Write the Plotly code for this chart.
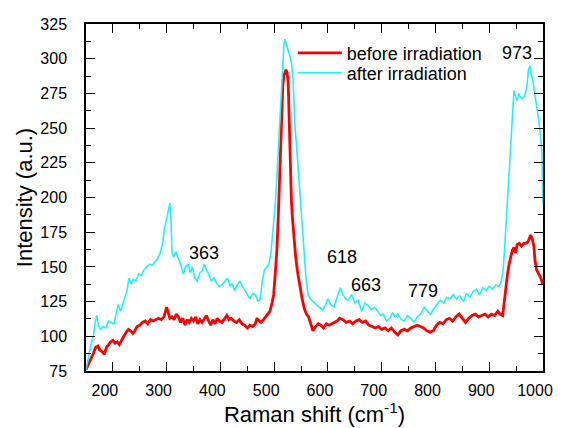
import plotly.graph_objects as go

# Raman shift (cm-1) and intensity (a.u.) — "after irradiation" (cyan)
after_x = [150,155,160,164,167,170,173,177,182,187,192,197,202,206,210,214,218,222,226,230,
           234,238,243,248,253,258,263,268,273,278,283,288,292,296,300,303,306,308,310,313,
           317,322,326,331,335,340,344,348,352,357,362,366,370,374,378,383,388,393,398,403,
           408,413,418,422,426,431,436,441,446,450,455,460,465,470,474,478,482,487,490,494,
           498,502,505,508,511,514,516,518,520,523,526,529,532,535,537,539,542,545,547,550,
           553,556,559,563,567,572,578,584,590,595,600,605,611,617,623,628,633,638,644,650,
           656,663,669,675,681,687,693,698,703,709,715,720,725,730,736,742,748,754,760,766,
           772,779,785,791,797,803,809,815,821,827,833,839,845,852,858,864,870,876,882,888,
           894,900,906,912,918,922,926,929,932,935,938,941,944,946,949,952,955,958,962,966,
           970,973,976,978,980,983,986,989,992,995,998,1000]
after_y = [76,86,95,100,110,115,108,105,107,106,111,110,109,116,123,118,122,128,132,142,
           138,141,140,145,144,148,150,152,151,154,156,160,166,178,184,190,196,184,160,157,
           161,156,152,145,150,152,146,150,142,140,146,147,152,148,145,140,142,138,136,137,
           140,142,136,138,133,137,140,136,133,130,127,131,130,125,127,140,148,150,152,160,
           176,195,214,235,256,280,297,310,314,310,305,302,298,285,265,250,235,220,209,195,
           178,160,143,130,127,125,123,121,119,122,127,123,121,128,135,130,127,126,130,124,
           126,118,124,122,119,121,118,115,116,111,113,117,114,116,112,111,115,113,110,114,
           116,121,118,116,120,123,126,124,128,127,130,127,129,125,131,128,132,134,130,135,
           133,136,134,137,136,139,148,166,185,205,225,250,268,277,273,270,275,272,271,273,
           280,292,295,288,287,280,273,264,256,245,233,195]

# "before irradiation" (red)
before_x = [150,155,160,164,168,172,176,180,184,188,192,196,200,204,208,212,216,220,225,229,
            233,237,241,245,250,255,260,265,270,275,280,285,290,295,300,303,306,310,314,318,
            322,326,330,334,338,342,346,350,354,358,362,366,370,374,378,382,386,390,394,398,
            403,407,412,416,420,425,430,435,440,445,450,455,460,465,468,472,476,480,484,488,
            492,496,499,502,505,508,510,512,514,516,518,520,522,524,526,527,528,529,530,532,
            534,537,540,544,548,552,556,560,564,568,572,577,582,587,592,597,602,607,612,617,
            622,628,634,640,646,652,658,664,670,676,682,688,694,700,706,712,718,724,730,736,
            742,748,754,760,766,772,778,784,790,796,802,808,814,820,826,832,838,844,850,856,
            862,868,874,880,886,892,898,904,910,916,920,925,928,931,934,937,940,943,946,949,
            952,956,960,964,968,972,975,977,980,983,985,988,992,996,1000]
before_y = [76,80,84,88,92,93,90,89,87,92,94,96,97,95,96,94,97,100,103,105,
            104,102,104,107,108,110,111,109,112,111,112,113,112,114,121,117,113,114,112,116,
            114,110,113,108,112,110,113,111,114,109,112,110,113,115,111,108,112,109,113,111,
            110,112,115,112,113,111,110,112,109,108,106,108,107,109,113,111,110,112,114,116,
            118,124,130,145,162,190,215,240,262,280,288,291,292,290,283,270,255,235,210,198,
            185,170,157,145,135,127,120,116,114,108,104,107,109,108,106,109,108,109,110,111,
            113,112,110,111,109,111,112,110,111,108,107,106,107,105,106,104,106,103,101,104,
            105,104,106,107,108,107,106,104,103,104,108,110,109,112,113,111,114,116,113,110,
            113,115,116,114,115,116,114,116,115,118,116,115,125,137,145,152,158,162,164,160,
            166,167,165,167,167,168,171,173,170,165,155,148,145,142,137]

# peak labels
peak_labels = ["363", "618", "663", "779", "973"]
peak_label_x = [370, 626, 670, 777, 951]
peak_label_y = [160, 157, 137, 133, 304]

x_ticks = [200, 300, 400, 500, 600, 700, 800, 900, 1000]
y_ticks = [75, 100, 125, 150, 175, 200, 225, 250, 275, 300, 325]

FONT = "Liberation Sans, Arial, sans-serif"

fig = go.Figure()
fig.add_trace(go.Scatter(x=before_x, y=before_y, mode="lines", name="before irradiation",
                         line=dict(color="#FF0000", width=2.8), legend="legend"))
fig.add_trace(go.Scatter(x=after_x, y=after_y, mode="lines", name="after irradiation",
                         line=dict(color="#22F2F2", width=1.6), legend="legend2"))

for t, px, py in zip(peak_labels, peak_label_x, peak_label_y):
    fig.add_annotation(x=px, y=py, text=t, showarrow=False,
                       font=dict(family=FONT, size=18, color="black"))

axis_common = dict(showline=True, linecolor="black", linewidth=1.5, mirror="ticks",
                   ticks="inside", ticklen=9, tickwidth=1.3, tickcolor="black",
                   showgrid=False, zeroline=False,
                   tickfont=dict(family=FONT, size=16, color="black"))

fig.update_xaxes(range=[150, 1000], tickvals=x_ticks, ticktext=[str(v) for v in x_ticks],
                 minor=dict(ticks="inside", ticklen=5, tickwidth=1.3, tickcolor="black", dtick=50,
                            tick0=0),
                 ticklabelshift=-8, ticklabelstandoff=4,
                 title=dict(text="Raman shift (cm<sup>-1</sup>)",
                            font=dict(family=FONT, size=22, color="black"), standoff=2),
                 **axis_common)
fig.update_yaxes(range=[75, 325], tickvals=y_ticks, ticktext=[str(v) for v in y_ticks],
                 minor=dict(ticks="inside", ticklen=5, tickwidth=1.3, tickcolor="black", dtick=12.5,
                            tick0=75),
                 ticklabelstandoff=14,
                 title=dict(text="Intensity (a.u.)",
                            font=dict(family=FONT, size=22, color="black"), standoff=2),
                 **axis_common)

legend_common = dict(xanchor="left", yanchor="top", bgcolor="rgba(0,0,0,0)", borderwidth=0,
                     font=dict(family=FONT, size=18, color="black"), itemwidth=44)
fig.update_layout(width=565, height=428, margin=dict(l=86, r=14, t=24, b=54),
                  paper_bgcolor="white", plot_bgcolor="white",
                  showlegend=True,
                  legend=dict(x=0.4525, y=0.969, **legend_common),
                  legend2=dict(x=0.4525, y=0.912, **legend_common))

fig.write_html("out.html", config={"displayModeBar": False},
               post_script="document.body.style.margin='0';")
